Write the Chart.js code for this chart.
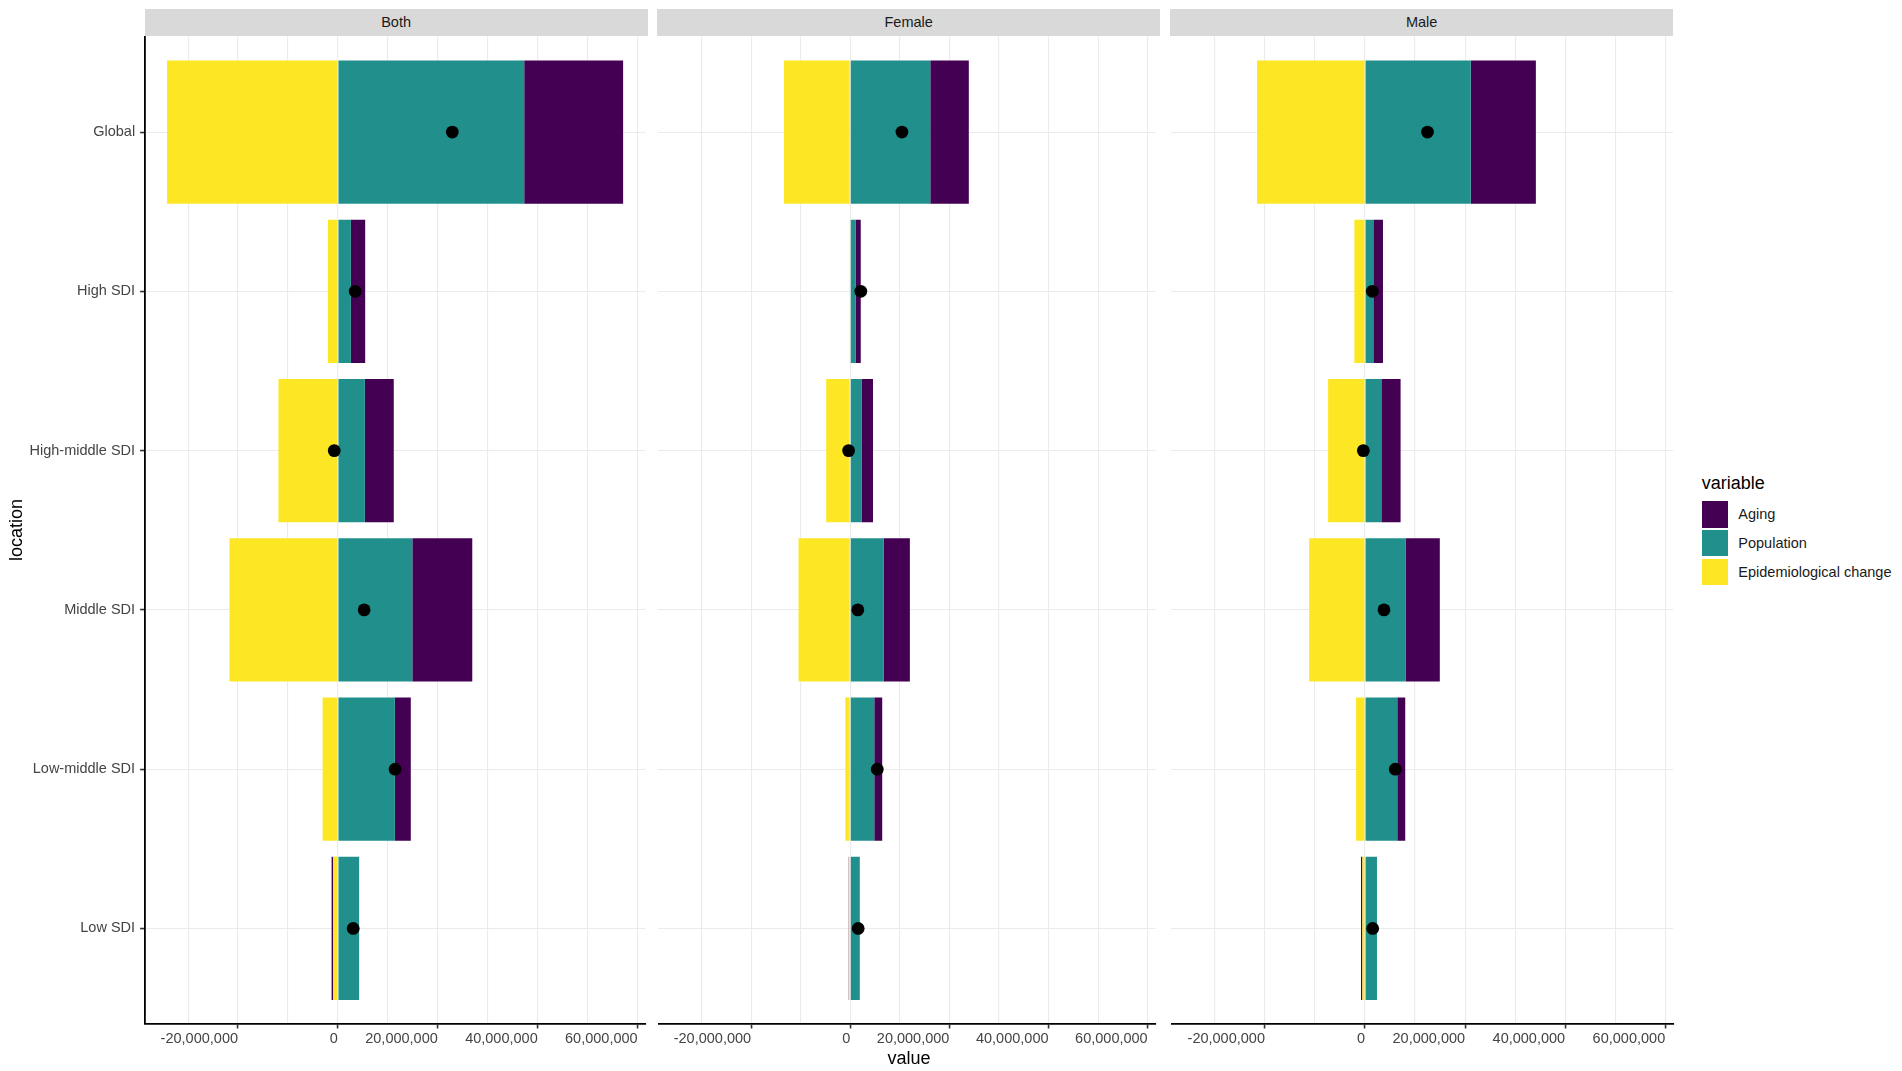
<!DOCTYPE html>
<html>
<head>
<meta charset="utf-8">
<script src="https://cdn.jsdelivr.net/npm/chart.js@4.4.1/dist/chart.umd.min.js"></script>
<style>
  html, body { margin:0; padding:0; background:#ffffff; width:1902px; height:1071px; overflow:hidden;
    font-family:'Liberation Sans', Arial, Helvetica, sans-serif; }
  canvas.cv { position:absolute; top:0; }
  .strip { position:absolute; top:9px; height:26.7px; background:#D9D9D9; color:#1A1A1A; font-size:14.5px;
    display:flex; align-items:center; justify-content:center; }
  .axtitle { position:absolute; font-size:18px; color:#000; text-align:center; height:22px; line-height:22px; width:200px; }
  .lgtitle { position:absolute; font-size:18px; color:#000; height:22px; line-height:22px; white-space:nowrap; }
  .lgkey { position:absolute; width:26.5px; height:26.5px; }
  .lglab { position:absolute; font-size:14.5px; color:#1A1A1A; height:20px; line-height:20px; white-space:nowrap; }
</style>
</head>
<body>
<script>
// ---------------- data ----------------
const locations = ['Global', 'High SDI', 'High-middle SDI', 'Middle SDI', 'Low-middle SDI', 'Low SDI'];
const sexes = ['Both', 'Female', 'Male'];
const seriesNames = ['Aging', 'Population', 'Epidemiological change'];
const xTickValues = [-30e6, -20e6, -10e6, 0, 10e6, 20e6, 30e6, 40e6, 50e6, 60e6];
const xLabelStep = 20e6;

const bothEpi    = [-34.2e6, -2.0e6, -11.9e6, -21.7e6, -3.06e6, -0.93e6];
const bothPop    = [ 37.3e6,  2.6e6,   5.4e6,  14.9e6, 11.4e6,  4.25e6];
const bothAging  = [ 19.8e6,  2.86e6,  5.78e6, 12.0e6,  3.19e6, -0.33e6];
const bothTotal  = [ 22.9e6,  3.46e6, -0.73e6,  5.25e6, 11.45e6, 3.06e6];

const femaleEpi   = [-13.36e6, -0.05e6, -4.85e6, -10.43e6, -1.0e6, -0.27e6];
const femalePop   = [ 16.15e6,  1.06e6,  2.26e6,   6.71e6,  4.85e6, 1.93e6];
const femaleAging = [  7.77e6,  1.06e6,  2.33e6,   5.32e6,  1.6e6, -0.05e6];
const femaleTotal = [ 10.43e6,  2.13e6, -0.33e6,   1.53e6,  5.45e6, 1.6e6];

const maleEpi   = [-21.59e6, -2.13e6, -7.38e6, -11.16e6, -1.79e6, -0.53e6];
const malePop   = [ 21.13e6,  1.66e6,  3.26e6,   8.17e6,  6.45e6, 2.39e6];
const maleAging = [ 13.02e6,  1.93e6,  3.85e6,   6.78e6,  1.59e6, -0.27e6];
const maleTotal = [ 12.49e6,  1.46e6, -0.33e6,   3.79e6,  6.05e6, 1.53e6];

const panelData = [
  { epi: bothEpi,   pop: bothPop,   aging: bothAging,   total: bothTotal },
  { epi: femaleEpi, pop: femalePop, aging: femaleAging, total: femaleTotal },
  { epi: maleEpi,   pop: malePop,   aging: maleAging,   total: maleTotal }
];

// ---------------- layout / style ----------------
const COLORS = { 'Aging': '#440154', 'Population': '#21908C', 'Epidemiological change': '#FDE725' };
const X_MIN = -38.7e6, X_MAX = 61.6e6;
const PLOT_TOP = 36.5, PLOT_BOTTOM = 1024;
const XAXIS_H = 40;
const boxes = [
  { canvasLeft: 0,    canvasWidth: 652, areaLeft: 144.6,  areaRight: 647.6,  yAxis: true },
  { canvasLeft: 652,  canvasWidth: 510, areaLeft: 657.2,  areaRight: 1160.2, yAxis: false },
  { canvasLeft: 1165, canvasWidth: 515, areaLeft: 1170.2, areaRight: 1673.2, yAxis: false }
];
const FONT = "'Liberation Sans', Arial, Helvetica, sans-serif";
Chart.defaults.font.family = FONT;

function fmt(v) {
  const s = String(Math.abs(Math.round(v))).replace(/\B(?=(\d{3})+(?!\d))/g, ',');
  return (v < 0 ? '-' : '') + s;
}
function toPoints(arr) { return arr.map((v, i) => ({ x: v, y: i + 1 })); }

panelData.forEach((pd, k) => {
  const b = boxes[k];
  const cv = document.createElement('canvas');
  cv.className = 'cv';
  cv.width = b.canvasWidth; cv.height = 1071;
  cv.style.left = b.canvasLeft + 'px';
  cv.style.width = b.canvasWidth + 'px'; cv.style.height = '1071px';
  document.body.appendChild(cv);

  const localLeft = b.areaLeft - b.canvasLeft;
  const localRight = b.canvasWidth - (b.areaRight - b.canvasLeft);

  new Chart(cv.getContext('2d'), {
    data: {
      datasets: [
        { type: 'line', label: 'total', data: toPoints(pd.total), indexAxis: 'y', showLine: false,
          stack: 'dot', pointRadius: 6.4, pointHoverRadius: 6.4, pointBackgroundColor: '#000',
          pointBorderWidth: 0, borderColor: '#000' },
        { type: 'bar', label: seriesNames[2], data: toPoints(pd.epi), backgroundColor: COLORS[seriesNames[2]],
          borderWidth: 0, categoryPercentage: 0.9, barPercentage: 1.0 },
        { type: 'bar', label: seriesNames[1], data: toPoints(pd.pop), backgroundColor: COLORS[seriesNames[1]],
          borderWidth: 0, categoryPercentage: 0.9, barPercentage: 1.0 },
        { type: 'bar', label: seriesNames[0], data: toPoints(pd.aging), backgroundColor: COLORS[seriesNames[0]],
          borderWidth: 0, categoryPercentage: 0.9, barPercentage: 1.0 }
      ]
    },
    options: {
      indexAxis: 'y',
      responsive: false,
      animation: false,
      devicePixelRatio: 1,
      layout: { padding: { left: b.yAxis ? 0 : localLeft, right: localRight, top: PLOT_TOP,
                           bottom: 1071 - PLOT_BOTTOM - XAXIS_H } },
      plugins: { legend: { display: false }, tooltip: { enabled: false } },
      scales: {
        x: {
          type: 'linear', stacked: true, min: X_MIN, max: X_MAX, bounds: 'data', offset: false,
          afterBuildTicks: (s) => { s.ticks = xTickValues.map(v => ({ value: v })); },
          afterFit: (s) => { s.height = XAXIS_H; },
          grid: {
            offset: false,
            color: '#EBEBEB', lineWidth: 1.1, drawTicks: true, tickLength: 4.5, tickWidth: 1.6,
            tickColor: (c) => (c.tick && c.tick.value % xLabelStep === 0) ? '#333333' : 'rgba(0,0,0,0)'
          },
          border: { display: true, color: '#000000', width: 1.8 },
          ticks: {
            autoSkip: false, maxRotation: 0, minRotation: 0, align: 'end', padding: 2,
            color: '#444444', font: { size: 14.5, family: FONT },
            callback: (v) => (v % xLabelStep === 0) ? fmt(v) : ''
          }
        },
        y: {
          type: 'linear', stacked: true, reverse: true, min: 0.4, max: 6.6, bounds: 'data', offset: false,
          afterBuildTicks: (s) => { s.ticks = locations.map((_, i) => ({ value: i + 1 })); },
          afterFit: (s) => { s.width = b.yAxis ? localLeft : 0; },
          grid: { offset: false, color: '#EBEBEB', lineWidth: 1.1, drawTicks: b.yAxis, tickLength: 4.5,
                  tickWidth: 1.6, tickColor: '#333333' },
          border: { display: b.yAxis, color: '#000000', width: 1.8 },
          ticks: {
            display: b.yAxis, autoSkip: false, padding: 5, color: '#444444',
            font: { size: 14.5, family: FONT },
            callback: (v) => locations[Math.round(v) - 1] || ''
          }
        }
      }
    }
  });

  const st = document.createElement('div');
  st.className = 'strip';
  st.style.left = b.areaLeft + 'px';
  st.style.width = (b.areaRight - b.areaLeft) + 'px';
  st.textContent = sexes[k];
  document.body.appendChild(st);
});

// axis titles
const yt = document.createElement('div');
yt.className = 'axtitle';
yt.textContent = 'location';
yt.style.left = (15.7 - 100) + 'px';
yt.style.top = (530.3 - 11) + 'px';
yt.style.transform = 'rotate(-90deg)';
document.body.appendChild(yt);

const xt = document.createElement('div');
xt.className = 'axtitle';
xt.textContent = 'value';
xt.style.left = (909 - 100) + 'px';
xt.style.top = (1058.3 - 11) + 'px';
document.body.appendChild(xt);

// legend
const lt = document.createElement('div');
lt.className = 'lgtitle';
lt.textContent = 'variable';
lt.style.left = '1701.7px';
lt.style.top = (483 - 11) + 'px';
document.body.appendChild(lt);

const keyTops = [501, 529.8, 558.6];
seriesNames.forEach((name, i) => {
  const k = document.createElement('div');
  k.className = 'lgkey';
  k.style.left = '1701.7px';
  k.style.top = keyTops[i] + 'px';
  k.style.background = COLORS[name];
  document.body.appendChild(k);
  const l = document.createElement('div');
  l.className = 'lglab';
  l.textContent = name;
  l.style.left = '1738.3px';
  l.style.top = (keyTops[i] + 13.25 - 10) + 'px';
  document.body.appendChild(l);
});
</script>
</body>
</html>
